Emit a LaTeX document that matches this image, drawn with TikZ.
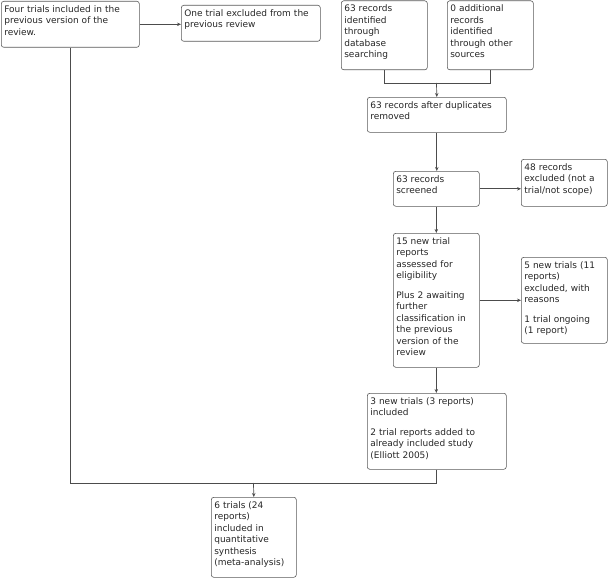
\documentclass[tikz,border=0pt]{standalone}
\usepackage{fontspec}
\setmainfont{DejaVu Sans}
\usetikzlibrary{arrows.meta}

\begin{document}
\begin{tikzpicture}[x=1pt, y=-1pt,
    box/.style={draw=black!65, line width=0.6pt, rounded corners=2.5pt, anchor=north west, align=left,
        inner xsep=3pt, inner ysep=4pt, text height=7pt, text=black!85,
        font=\fontsize{9}{11.5}\selectfont},
    line/.style={draw=black!70, line width=0.7pt},
    arr/.style={line, -{Stealth[length=4pt, width=3.5pt]}}]
    \useasboundingbox (0,0) rectangle (608,578);

    % Nodes for the previous version of the review
    \node[box, text width=132pt, text depth=31pt] (prev) at (1,1) {Four trials included in the\\previous version of the\\review.};
    \node[box, text width=133pt, text depth=21pt] (prevex) at (181,5) {One trial excluded from the\\previous review};

    % Nodes for identification and screening
    \node[box, text width=80pt, text depth=54pt] (dbase) at (341,0.5) {63 records\\identified\\through\\database\\searching};
    \node[box, text width=80pt, text depth=54pt] (other) at (447,0.5) {0 additional\\records\\identified\\through other\\sources};
    \node[box, text width=133pt, text depth=20pt] (dupl) at (367,97) {63 records after duplicates\\removed};
    \node[box, text width=80pt, text depth=20pt] (screen) at (393,171) {63 records\\screened};
    \node[box, text width=80pt, text depth=32pt] (recex) at (521,159) {48 records\\excluded (not a\\trial/not scope)};
    \node[box, text width=80pt, text depth=119pt] (elig) at (393,233) {15 new trial\\reports\\assessed for\\eligibility\\[8pt]Plus 2 awaiting\\further\\classification in\\the previous\\version of the\\review};
    \node[box, text width=80pt, text depth=71pt] (fullex) at (521,257) {5 new trials (11\\reports)\\excluded, with\\reasons\\[8pt]1 trial ongoing\\(1 report)};
    \node[box, text width=133pt, text depth=61pt] (incl) at (367,393) {3 new trials (3 reports)\\included\\[8pt]2 trial reports added to\\already included study\\(Elliott 2005)};
    \node[box, text width=79pt, text depth=65pt] (synth) at (211,497) {6 trials (24\\reports)\\included in\\quantitative\\synthesis\\(meta-analysis)};

    % Junction points
    \coordinate (join) at (436.5,83);
    \coordinate (merge) at (253.5,483);

    % Connectors
    \draw[arr] (prev.east) -- (prev.east -| prevex.west);
    \draw[line] (dbase.south) |- (join);
    \draw[line] (other.south) |- (join);
    \draw[arr] (join) -- (dupl.north);
    \draw[arr] (dupl.south) -- (dupl.south |- screen.north);
    \draw[arr] (screen.east) -- (screen.east -| recex.west);
    \draw[arr] (screen.south) -- (elig.north);
    \draw[arr] (elig.east) -- (elig.east -| fullex.west);
    \draw[arr] (elig.south) -- (elig.south |- incl.north);
    \draw[line] (prev.south) |- (merge);
    \draw[line] (incl.south) |- (merge);
    \draw[arr] (merge) -- (synth.north);
\end{tikzpicture}
\end{document}
